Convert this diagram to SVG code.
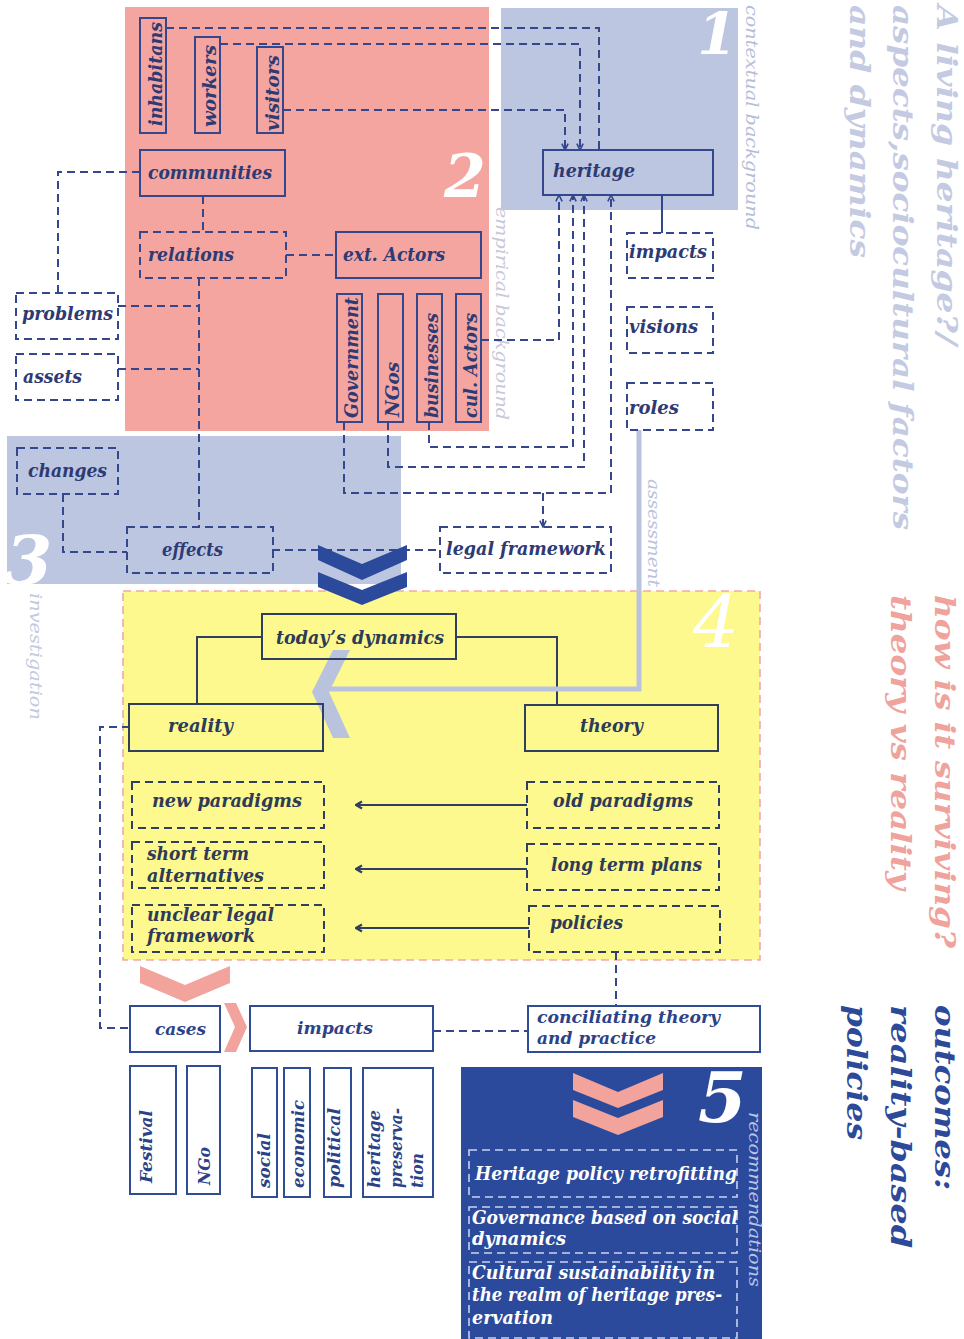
<svg xmlns="http://www.w3.org/2000/svg" width="964" height="1339" viewBox="0 0 964 1339">
<defs>
<style>
.box{fill:none;stroke:#34468c;stroke-width:2}
.dsh{stroke-dasharray:8 5}
.lbl{font-family:"DejaVu Serif","Liberation Serif",serif;font-weight:bold;font-style:italic;font-size:18px;fill:#2e3a74}
.ybox{fill:none;stroke:#2f3f62;stroke-width:2}
.ylbl{fill:#2d3b58}
.bbox{fill:none;stroke:#2f4c96;stroke-width:2}
.blbl{fill:#2c4288;font-size:17px}
.wbox{fill:none;stroke:#c9d3f0;stroke-width:1.6;stroke-dasharray:8 5}
.wlbl{fill:#ffffff}
.con{fill:none;stroke:#34468c;stroke-width:2;stroke-dasharray:8 5}
.sol{fill:none;stroke:#2f3f62;stroke-width:2}
.side{font-family:"DejaVu Serif","Liberation Serif",serif;font-style:italic;font-size:16px}
.big{font-family:"DejaVu Serif","Liberation Serif",serif;font-weight:bold;font-style:italic;fill:#ffffff}
.title{font-family:"DejaVu Serif","Liberation Serif",serif;font-weight:bold;font-style:italic;font-size:28px}
</style>
<marker id="arr" viewBox="0 0 10 10" refX="9" refY="5" markerWidth="9" markerHeight="9" markerUnits="userSpaceOnUse" orient="auto">
<path d="M2,1.5 L9,5 L2,8.5" fill="none" stroke="#34468c" stroke-width="1.8"/>
</marker>
<marker id="arrY" viewBox="0 0 10 10" refX="9" refY="5" markerWidth="10" markerHeight="10" markerUnits="userSpaceOnUse" orient="auto">
<path d="M3,1.5 L9,5 L3,8.5" fill="none" stroke="#2f3f62" stroke-width="2.2"/>
</marker>
</defs>

<!-- section backgrounds -->
<g id="regions">
<rect x="125" y="7" width="364" height="424" fill="#f4a59f"/>
<rect x="501" y="8" width="237" height="202" fill="#bcc6e0"/>
<rect x="7" y="436" width="394" height="148" fill="#bcc6e0"/>
<rect x="123" y="591" width="637" height="369" fill="#fdf98f" stroke="#f2a9a0" stroke-width="1.6" stroke-dasharray="8 5"/>
<rect x="461" y="1067" width="301" height="272" fill="#2c4a9c"/>
</g>

<!-- section numbers and side captions -->
<g id="captions">
<text class="big" x="737" y="54" font-size="57" text-anchor="end">1</text>
<text class="big" x="444" y="197" font-size="60">2</text>
<text class="big" x="5" y="584" font-size="68">3</text>
<text x="693" y="648" font-family="DejaVu Serif, serif" font-style="italic" font-size="72" fill="#ffffff">4</text>
<text class="big" x="698" y="1122" font-size="70">5</text>
<text class="side" transform="translate(746,5) rotate(90)" fill="#b4bed8" textLength="225" lengthAdjust="spacingAndGlyphs">contextual background</text>
<text class="side" transform="translate(496,207) rotate(90)" fill="#c9c8d6" textLength="213" lengthAdjust="spacingAndGlyphs">empirical background</text>
<text class="side" transform="translate(648,479) rotate(90)" fill="#b9c3dd" textLength="108" lengthAdjust="spacingAndGlyphs">assessment</text>
<text class="side" transform="translate(30,593) rotate(90)" fill="#c2c9e0" textLength="127" lengthAdjust="spacingAndGlyphs">investigation</text>
<text class="side" transform="translate(749,1112) rotate(90)" fill="#b8c4e6" textLength="175" lengthAdjust="spacingAndGlyphs">recommendations</text>
</g>

<!-- headings -->
<g id="headings">
<g class="title" fill="#c3cae2">
<text transform="translate(937,5) rotate(90)" textLength="340" lengthAdjust="spacingAndGlyphs">A living heritage?/</text>
<text transform="translate(893,5) rotate(90)" textLength="525" lengthAdjust="spacingAndGlyphs">aspects,sociocultural factors</text>
<text transform="translate(850,5) rotate(90)" textLength="253" lengthAdjust="spacingAndGlyphs">and dynamics</text>
</g>
<g class="title" fill="#f0a29c">
<text transform="translate(935,595) rotate(90)" textLength="353" lengthAdjust="spacingAndGlyphs">how is it surviving?</text>
<text transform="translate(891,595) rotate(90)" textLength="295" lengthAdjust="spacingAndGlyphs">theory vs reality</text>
</g>
<g class="title" fill="#2d4a9a">
<text transform="translate(935,1005) rotate(90)" textLength="185" lengthAdjust="spacingAndGlyphs">outcomes:</text>
<text transform="translate(891,1005) rotate(90)" textLength="243" lengthAdjust="spacingAndGlyphs">reality-based</text>
<text transform="translate(847,1005) rotate(90)" textLength="135" lengthAdjust="spacingAndGlyphs">policies</text>
</g>
</g>

<!-- connectors -->
<g id="connectors">
<path class="con" d="M166,28 H599 V150"/>
<path class="con" d="M220,44 H580 V150" marker-end="url(#arr)"/>
<path class="con" d="M283,110 H565 V150" marker-end="url(#arr)"/>
<path class="con" d="M140,172 H58 V293"/>
<path class="con" d="M203,196 V232"/>
<path class="con" d="M286,255 H336"/>
<path class="con" d="M199,278 V527"/>
<path class="con" d="M118,306 H199"/>
<path class="con" d="M118,369 H199"/>
<path class="con" d="M481,340 H559 V195" marker-end="url(#arr)"/>
<path class="con" d="M429,422 V447 H573 V195" marker-end="url(#arr)"/>
<path class="con" d="M388,422 V467 H584 V195" marker-end="url(#arr)"/>
<path class="con" d="M344,422 V493 H611 V195" marker-end="url(#arr)"/>
<path class="con" d="M543,493 V527" marker-end="url(#arr)"/>
<path class="con" d="M272,550 H440"/>
<path class="con" d="M63,494 V552 H127"/>
<path d="M662,195 V233" fill="none" stroke="#34468c" stroke-width="2"/>
<path class="sol" d="M262,637 H197 V705"/>
<path class="sol" d="M456,637 H557 V705"/>
<path class="sol" d="M527,805 H356" marker-end="url(#arrY)"/>
<path class="sol" d="M527,869 H356" marker-end="url(#arrY)"/>
<path class="sol" d="M529,928 H356" marker-end="url(#arrY)"/>
<path class="con" d="M616,952 V1006"/>
<path class="con" d="M433,1031 H528"/>
<path class="con" d="M130,727 H100 V1028 H130"/>
<path d="M639,430 V689 H328" fill="none" stroke="#b9c3dd" stroke-width="5"/>
<polygon points="333,650 350,650 329,692 350,738 333,738 312,692" fill="#b9c3dd"/>
<polygon points="318,545 362,564 407,545 407,560 362,580 318,560" fill="#2c4a9c"/>
<polygon points="318,572 362,590 407,572 407,587 362,605 318,587" fill="#2c4a9c"/>
<polygon points="140,966 185,985 230,966 230,983 185,1002 140,983" fill="#f2a39c"/>
<polygon points="224,1003 236,1003 247,1027 236,1052 224,1052 235,1027" fill="#f2a39c"/>
<polygon points="573,1073 618,1092 663,1073 663,1090 618,1108 573,1090" fill="#f2a39c"/>
<polygon points="573,1100 618,1118 663,1100 663,1117 618,1135 573,1117" fill="#f2a39c"/>
</g>

<!-- stakeholders -->
<g id="inhabitans"><rect class="box" x="140" y="18" width="26" height="115"/><text class="lbl" transform="translate(162,126) rotate(-90)" textLength="104" lengthAdjust="spacingAndGlyphs">inhabitans</text></g>
<g id="workers"><rect class="box" x="195" y="37" width="25" height="96"/><text class="lbl" transform="translate(216,127) rotate(-90)" textLength="82" lengthAdjust="spacingAndGlyphs">workers</text></g>
<g id="visitors"><rect class="box" x="257" y="47" width="26" height="86"/><text class="lbl" transform="translate(279,131) rotate(-90)" textLength="76" lengthAdjust="spacingAndGlyphs">visitors</text></g>
<g id="communities"><rect class="box" x="140" y="150" width="145" height="46"/><text class="lbl" x="148" y="179" textLength="124" lengthAdjust="spacingAndGlyphs">communities</text></g>
<g id="relations"><rect class="box dsh" x="140" y="232" width="146" height="46"/><text class="lbl" x="148" y="261" textLength="86" lengthAdjust="spacingAndGlyphs">relations</text></g>
<g id="ext-actors"><rect class="box" x="336" y="232" width="145" height="46"/><text class="lbl" x="343" y="261" textLength="102" lengthAdjust="spacingAndGlyphs">ext. Actors</text></g>
<g id="government"><rect class="box" x="337" y="294" width="25" height="128"/><text class="lbl" transform="translate(358,418) rotate(-90)" textLength="121" lengthAdjust="spacingAndGlyphs">Government</text></g>
<g id="ngos"><rect class="box" x="378" y="294" width="25" height="128"/><text class="lbl" transform="translate(399,417) rotate(-90)" textLength="55" lengthAdjust="spacingAndGlyphs">NGos</text></g>
<g id="businesses"><rect class="box" x="417" y="294" width="25" height="128"/><text class="lbl" transform="translate(438,418) rotate(-90)" textLength="105" lengthAdjust="spacingAndGlyphs">businesses</text></g>
<g id="cul-actors"><rect class="box" x="456" y="294" width="25" height="128"/><text class="lbl" transform="translate(477,418) rotate(-90)" textLength="105" lengthAdjust="spacingAndGlyphs">cul. Actors</text></g>
<g id="problems"><rect class="box dsh" x="16" y="293" width="102" height="46"/><text class="lbl" x="22" y="320" textLength="91" lengthAdjust="spacingAndGlyphs">problems</text></g>
<g id="assets"><rect class="box dsh" x="16" y="354" width="102" height="46"/><text class="lbl" x="23" y="383" textLength="59" lengthAdjust="spacingAndGlyphs">assets</text></g>

<!-- context -->
<g id="heritage"><rect class="box" x="543" y="150" width="170" height="45"/><text class="lbl" x="553" y="177" textLength="82" lengthAdjust="spacingAndGlyphs">heritage</text></g>
<g id="impacts-ctx"><rect class="box dsh" x="627" y="233" width="86" height="45"/><text class="lbl" x="629" y="258" textLength="78" lengthAdjust="spacingAndGlyphs">impacts</text></g>
<g id="visions"><rect class="box dsh" x="627" y="307" width="86" height="46"/><text class="lbl" x="629" y="333" textLength="69" lengthAdjust="spacingAndGlyphs">visions</text></g>
<g id="roles"><rect class="box dsh" x="627" y="383" width="86" height="47"/><text class="lbl" x="629" y="414" textLength="50" lengthAdjust="spacingAndGlyphs">roles</text></g>

<!-- investigation -->
<g id="changes"><rect class="box dsh" x="17" y="448" width="101" height="46"/><text class="lbl" x="28" y="477" textLength="79" lengthAdjust="spacingAndGlyphs">changes</text></g>
<g id="effects"><rect class="box dsh" x="127" y="527" width="146" height="46"/><text class="lbl" x="162" y="556" textLength="61" lengthAdjust="spacingAndGlyphs">effects</text></g>
<g id="legal-framework"><rect class="box dsh" x="440" y="527" width="171" height="46"/><text class="lbl" x="446" y="555" textLength="160" lengthAdjust="spacingAndGlyphs">legal framework</text></g>

<!-- theory vs reality -->
<g id="todays-dynamics"><rect class="ybox" x="262" y="614" width="194" height="45"/><text class="lbl ylbl" x="276" y="644" textLength="168" lengthAdjust="spacingAndGlyphs">today’s dynamics</text></g>
<g id="reality"><rect class="ybox" x="129" y="704" width="194" height="47"/><text class="lbl ylbl" x="168" y="732" textLength="65" lengthAdjust="spacingAndGlyphs">reality</text></g>
<g id="theory"><rect class="ybox" x="525" y="705" width="193" height="46"/><text class="lbl ylbl" x="580" y="732" textLength="63" lengthAdjust="spacingAndGlyphs">theory</text></g>
<g id="new-paradigms"><rect class="ybox dsh" x="132" y="782" width="192" height="46"/><text class="lbl ylbl" x="152" y="807" textLength="150" lengthAdjust="spacingAndGlyphs">new paradigms</text></g>
<g id="old-paradigms"><rect class="ybox dsh" x="527" y="782" width="192" height="46"/><text class="lbl ylbl" x="553" y="807" textLength="140" lengthAdjust="spacingAndGlyphs">old paradigms</text></g>
<g id="short-term"><rect class="ybox dsh" x="132" y="842" width="192" height="46"/><text class="lbl ylbl" x="147" y="860" textLength="102" lengthAdjust="spacingAndGlyphs">short term</text><text class="lbl ylbl" x="147" y="882" textLength="117" lengthAdjust="spacingAndGlyphs">alternatives</text></g>
<g id="long-term"><rect class="ybox dsh" x="527" y="844" width="192" height="46"/><text class="lbl ylbl" x="551" y="871" textLength="151" lengthAdjust="spacingAndGlyphs">long term plans</text></g>
<g id="unclear-legal"><rect class="ybox dsh" x="132" y="905" width="192" height="47"/><text class="lbl ylbl" x="147" y="921" textLength="127" lengthAdjust="spacingAndGlyphs">unclear legal</text><text class="lbl ylbl" x="147" y="942" textLength="108" lengthAdjust="spacingAndGlyphs">framework</text></g>
<g id="policies"><rect class="ybox dsh" x="529" y="906" width="191" height="46"/><text class="lbl ylbl" x="550" y="929" textLength="73" lengthAdjust="spacingAndGlyphs">policies</text></g>

<!-- cases and impacts -->
<g id="cases"><rect class="bbox" x="130" y="1006" width="90" height="46"/><text class="lbl blbl" x="155" y="1035" textLength="51" lengthAdjust="spacingAndGlyphs">cases</text></g>
<g id="impacts"><rect class="bbox" x="250" y="1006" width="183" height="45"/><text class="lbl blbl" x="297" y="1034" textLength="76" lengthAdjust="spacingAndGlyphs">impacts</text></g>
<g id="conciliating"><rect class="bbox" x="528" y="1006" width="232" height="46"/><text class="lbl blbl" x="537" y="1023" textLength="183" lengthAdjust="spacingAndGlyphs">conciliating theory</text><text class="lbl blbl" x="537" y="1044" textLength="119" lengthAdjust="spacingAndGlyphs">and practice</text></g>
<g id="festival"><rect class="bbox" x="130" y="1066" width="46" height="128"/><text class="lbl blbl" transform="translate(152,1183) rotate(-90)" textLength="73" lengthAdjust="spacingAndGlyphs">Festival</text></g>
<g id="ngo"><rect class="bbox" x="187" y="1066" width="33" height="128"/><text class="lbl blbl" transform="translate(210,1185) rotate(-90)" textLength="38" lengthAdjust="spacingAndGlyphs">NGo</text></g>
<g id="social"><rect class="bbox" x="252" y="1068" width="25" height="129"/><text class="lbl blbl" transform="translate(270,1188) rotate(-90)" textLength="55" lengthAdjust="spacingAndGlyphs">social</text></g>
<g id="economic"><rect class="bbox" x="284" y="1068" width="26" height="129"/><text class="lbl blbl" transform="translate(304,1188) rotate(-90)" textLength="88" lengthAdjust="spacingAndGlyphs">economic</text></g>
<g id="political"><rect class="bbox" x="324" y="1068" width="27" height="129"/><text class="lbl blbl" transform="translate(340,1188) rotate(-90)" textLength="80" lengthAdjust="spacingAndGlyphs">political</text></g>
<g id="heritage-preservation"><rect class="bbox" x="363" y="1068" width="70" height="129"/>
<text class="lbl blbl" transform="translate(380,1188) rotate(-90)" textLength="78" lengthAdjust="spacingAndGlyphs">heritage</text>
<text class="lbl blbl" transform="translate(402,1188) rotate(-90)" textLength="80" lengthAdjust="spacingAndGlyphs">preserva-</text>
<text class="lbl blbl" transform="translate(423,1188) rotate(-90)" textLength="35" lengthAdjust="spacingAndGlyphs">tion</text></g>

<!-- recommendations -->
<g id="rec-retrofitting"><rect class="wbox" x="469" y="1150" width="268" height="47"/><text class="lbl wlbl" x="475" y="1180" textLength="262" lengthAdjust="spacingAndGlyphs">Heritage policy retrofitting</text></g>
<g id="rec-governance"><rect class="wbox" x="469" y="1207" width="268" height="46"/><text class="lbl wlbl" x="472" y="1224" textLength="266" lengthAdjust="spacingAndGlyphs">Governance based on social</text><text class="lbl wlbl" x="472" y="1245" textLength="94" lengthAdjust="spacingAndGlyphs">dynamics</text></g>
<g id="rec-sustainability"><rect class="wbox" x="469" y="1262" width="268" height="76"/><text class="lbl wlbl" x="472" y="1279" textLength="243" lengthAdjust="spacingAndGlyphs">Cultural sustainability in</text><text class="lbl wlbl" x="472" y="1301" textLength="250" lengthAdjust="spacingAndGlyphs">the realm of heritage pres-</text><text class="lbl wlbl" x="472" y="1324" textLength="81" lengthAdjust="spacingAndGlyphs">ervation</text></g>
</svg>
